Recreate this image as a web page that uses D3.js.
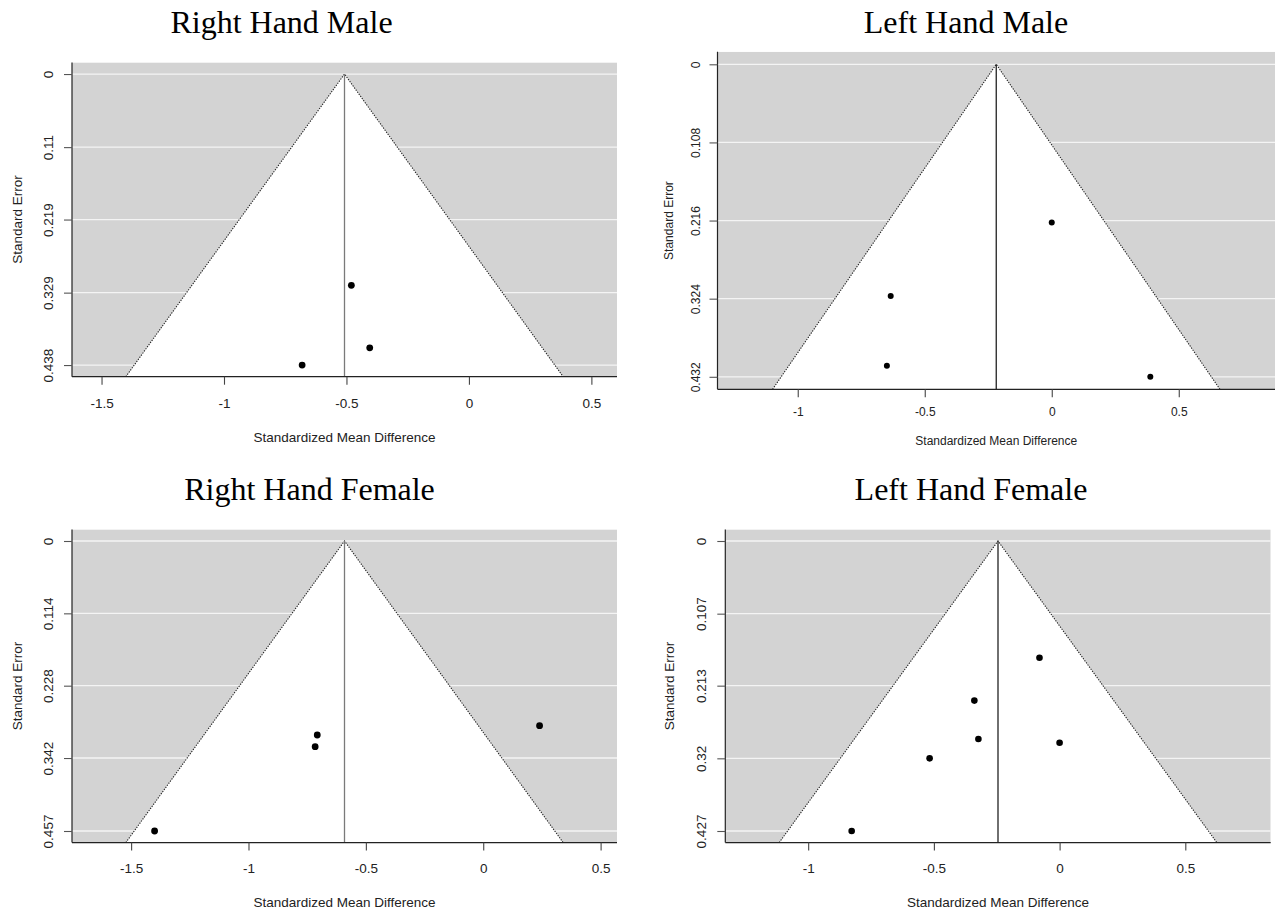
<!DOCTYPE html>
<html><head><meta charset="utf-8">
<script src="https://cdn.jsdelivr.net/npm/d3@7"></script>
<style>body{margin:0;background:#fff}</style>
</head><body>
<svg id="chart" width="1282" height="915"></svg>
<script>
// ---------- DATA ----------
const panelTitles = ["Right Hand Male", "Left Hand Male", "Right Hand Female", "Left Hand Female"];

const rhmSMD = [-0.480, -0.405, -0.681];
const rhmSE  = [0.318, 0.412, 0.438];
const rhmEst = -0.508;
const rhmYTicks = ["0", "0.11", "0.219", "0.329", "0.438"];

const lhmSMD = [0.0, -0.634, -0.649, 0.388];
const lhmSE  = [0.2186, 0.3204, 0.4168, 0.432];
const lhmEst = -0.2185;
const lhmYTicks = ["0", "0.108", "0.216", "0.324", "0.432"];

const rhfSMD = [-0.707, -0.716, 0.240, -1.400];
const rhfSE  = [0.3057, 0.3241, 0.291, 0.457];
const rhfEst = -0.591;
const rhfYTicks = ["0", "0.114", "0.228", "0.342", "0.457"];

const lhfSMD = [-0.080, -0.339, -0.323, 0.0, -0.517, -0.827];
const lhfSE  = [0.172, 0.235, 0.2915, 0.297, 0.320, 0.427];
const lhfEst = -0.245;
const lhfYTicks = ["0", "0.107", "0.213", "0.32", "0.427"];

const xTicksLeft  = [-1.5, -1, -0.5, 0, 0.5];
const xTicksRight = [-1, -0.5, 0, 0.5];

const xAxisTitle = "Standardized Mean Difference";
const yAxisTitle = "Standard Error";

// ---------- LAYOUT ----------
const panels = [
  {title: panelTitles[0], smd: rhmSMD, se: rhmSE, est: rhmEst, yTicks: rhmYTicks, xTicks: xTicksLeft,
   box: {x0: 72, x1: 617, y0: 62.4, y1: 376.7}, fs: 13.5, tickOff: 26, xTitleOff: 60, yTickOff: 24, yTitleOff: 55,
   titleX: 281.5, titleY: 33, centerCol: "#7a7a7a", r: 3.4},
  {title: panelTitles[1], smd: lhmSMD, se: lhmSE, est: lhmEst, yTicks: lhmYTicks, xTicks: xTicksRight,
   box: {x0: 717.5, x1: 1275, y0: 51.8, y1: 389.3}, fs: 12, tickOff: 22, xTitleOff: 51, yTickOff: 22, yTitleOff: 49,
   titleX: 966, titleY: 33, centerCol: "#222", r: 3.0},
  {title: panelTitles[2], smd: rhfSMD, se: rhfSE, est: rhfEst, yTicks: rhfYTicks, xTicks: xTicksLeft,
   box: {x0: 72, x1: 617, y0: 529.4, y1: 842.6}, fs: 13.5, tickOff: 26, xTitleOff: 60, yTickOff: 24, yTitleOff: 55,
   titleX: 309.5, titleY: 500, centerCol: "#7a7a7a", r: 3.4},
  {title: panelTitles[3], smd: lhfSMD, se: lhfSE, est: lhfEst, yTicks: lhfYTicks, xTicks: xTicksRight,
   box: {x0: 725.3, x1: 1270.7, y0: 529.4, y1: 842.6}, fs: 13.5, tickOff: 26, xTitleOff: 60, yTickOff: 24, yTitleOff: 56,
   titleX: 971, titleY: 500, centerCol: "#222", r: 3.3}
];

const svg = d3.select("#chart");
const sansFont = "'Liberation Sans', Arial, Helvetica, sans-serif";
const serifFont = "'Liberation Serif', 'Times New Roman', Times, serif";

panels.forEach((p, i) => {
  const b = p.box;
  const maxSE = d3.max(p.se);
  const z = 1.96;
  // metafor-style x limits
  const lbBot = p.est - z * maxSE, ubBot = p.est + z * maxSE;
  let xl = [Math.min(lbBot, d3.min(p.smd)), Math.max(ubBot, d3.max(p.smd))];
  let rx = xl[1] - xl[0];
  xl = [xl[0] - 0.1 * rx, xl[1] + 0.1 * rx];
  rx = xl[1] - xl[0];
  xl = [xl[0] - 0.04 * rx, xl[1] + 0.04 * rx];
  const yl = [-0.04 * maxSE, maxSE * 1.04];

  const x = d3.scaleLinear().domain(xl).range([b.x0, b.x1]);
  const y = d3.scaleLinear().domain(yl).range([b.y0, b.y1]);

  const g = svg.append("g");
  const clipId = "clip" + i;
  g.append("clipPath").attr("id", clipId).append("rect")
    .attr("x", b.x0).attr("y", b.y0).attr("width", b.x1 - b.x0).attr("height", b.y1 - b.y0);
  const plot = g.append("g").attr("clip-path", `url(#${clipId})`);

  plot.append("rect").attr("x", b.x0).attr("y", b.y0).attr("width", b.x1 - b.x0).attr("height", b.y1 - b.y0)
    .attr("fill", "#d3d3d3");
  plot.selectAll("line.grid").data(p.yTicks).join("line").attr("class", "grid")
    .attr("x1", b.x0).attr("x2", b.x1)
    .attr("y1", d => y(+d)).attr("y2", d => y(+d))
    .attr("stroke", "#f4f4f4").attr("stroke-width", 1.3);
  const yb = yl[1];
  const funnel = [[p.est - z * yb, yb], [p.est, 0], [p.est + z * yb, yb]];
  plot.append("path").attr("d", d3.line().x(d => x(d[0])).y(d => y(d[1]))(funnel) + "Z")
    .attr("fill", "#fff");
  plot.append("path").attr("d", d3.line().x(d => x(d[0])).y(d => y(d[1]))(funnel))
    .attr("fill", "none").attr("stroke", "#222").attr("stroke-width", 1.1)
    .attr("stroke-dasharray", "1.3,1.3");
  plot.append("line").attr("x1", x(p.est)).attr("x2", x(p.est)).attr("y1", y(0)).attr("y2", y(yb))
    .attr("stroke", p.centerCol).attr("stroke-width", 1.3);
  plot.selectAll("circle").data(p.smd.map((v, k) => [v, p.se[k]])).join("circle")
    .attr("cx", d => x(d[0])).attr("cy", d => y(d[1])).attr("r", p.r).attr("fill", "#000");

  g.append("line").attr("x1", b.x0).attr("x2", b.x1).attr("y1", b.y1).attr("y2", b.y1)
    .attr("stroke", "#222").attr("stroke-width", 1.2);
  g.append("line").attr("x1", b.x0).attr("x2", b.x0).attr("y1", b.y0).attr("y2", b.y1)
    .attr("stroke", "#222").attr("stroke-width", 1.2);

  const xa = g.append("g").attr("transform", `translate(0,${b.y1})`)
    .call(d3.axisBottom(x).tickValues(p.xTicks).tickSize(8).tickFormat(d => d3.format("")(d).replace("−", "-")));
  xa.select(".domain").remove();
  xa.selectAll(".tick line").attr("stroke", "#444").attr("stroke-width", 1.1);
  xa.selectAll(".tick text").attr("y", p.tickOff).attr("dy", "0.36em")
    .attr("fill", "#222").style("font-family", sansFont).style("font-size", p.fs + "px");

  const ya = g.append("g").attr("transform", `translate(${b.x0},0)`)
    .call(d3.axisLeft(y).tickValues(p.yTicks.map(Number)).tickSize(8).tickFormat((d, k) => p.yTicks[k]));
  ya.select(".domain").remove();
  ya.selectAll(".tick line").attr("stroke", "#555").attr("stroke-width", 1.1);
  ya.selectAll(".tick text")
    .attr("x", null).attr("y", null).attr("dy", "0.36em")
    .attr("transform", `translate(${-p.yTickOff},0) rotate(-90)`)
    .attr("text-anchor", "middle")
    .attr("fill", "#222").style("font-family", sansFont).style("font-size", p.fs + "px");

  g.append("text").attr("x", (b.x0 + b.x1) / 2).attr("y", b.y1 + p.xTitleOff).attr("dy", "0.36em")
    .attr("text-anchor", "middle").attr("fill", "#222")
    .style("font-family", sansFont).style("font-size", p.fs + "px").text(xAxisTitle);
  g.append("text")
    .attr("transform", `translate(${b.x0 - p.yTitleOff},${(b.y0 + b.y1) / 2}) rotate(-90)`)
    .attr("dy", "0.36em").attr("text-anchor", "middle").attr("fill", "#222")
    .style("font-family", sansFont).style("font-size", p.fs + "px").text(yAxisTitle);

  g.append("text").attr("x", p.titleX).attr("y", p.titleY).attr("text-anchor", "middle")
    .attr("fill", "#000").style("font-family", serifFont).style("font-size", "32px").text(p.title);
});
</script>
</body></html>
